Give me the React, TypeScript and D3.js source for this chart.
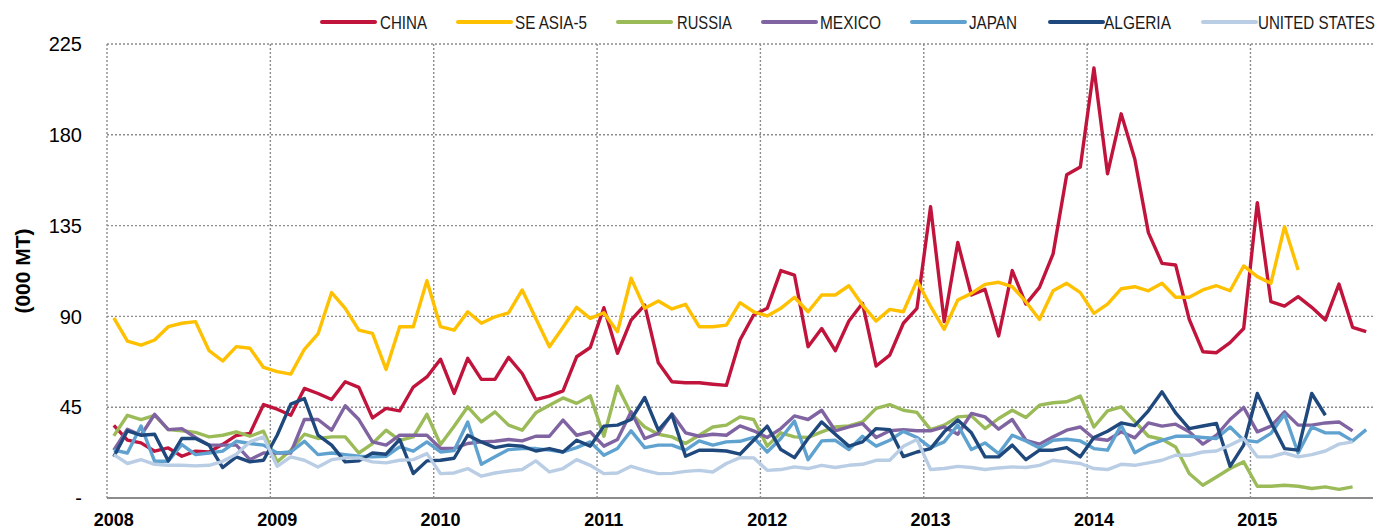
import React, { useEffect, useRef } from "react";
import * as d3 from "d3";

const WIDTH = 1384;
const HEIGHT = 529;
const MARGIN = { top: 44, right: 11, bottom: 31, left: 107 };

const YEARS = ["2008", "2009", "2010", "2011", "2012", "2013", "2014", "2015"];
const MONTH_COUNT = 93; // Jan 2008 .. Sep 2015
const Y_TICKS = [0, 45, 90, 135, 180, 225];

const CHINA = [
  36, 28.7, 27.3, 23.2, 24.8, 20.7, 23.2, 22.8, 26.6, 31, 32, 46.3,
  44, 41, 54.3, 51.8, 48.8, 57.6, 54.8, 39.7, 44.4, 43.2, 55, 60,
  68.8, 51.8, 69.2, 58.8, 58.8, 69.7, 61.7, 48.8, 50.5, 53.1, 70, 74.6,
  94.3, 71.7, 88.2, 95.6, 67, 57.6, 57.1, 57.1, 56.4, 55.8, 78.3, 90.7,
  94, 112.7, 110.5, 75, 84, 73, 87.7, 96.5, 65.4, 70.8, 86.6, 94,
  144.4, 87.4, 126.6, 100.6, 103.4, 80.3, 112.7, 96.1, 104.4, 121, 160.2, 164,
  213.1, 160.7, 190.4, 168, 131.5, 116.3, 115.5, 88.5, 72.5, 72, 77, 84,
  146.4, 97.3, 95.1, 99.8, 94.5, 88.2, 106, 84.6, 82.4,
];
const SE_ASIA_5 = [
  89.3, 77.8, 75.8, 78.3, 84.9, 86.6, 87.4, 73, 67.9, 75, 74.2, 64.7,
  62.6, 61.4, 73.7, 81.3, 101.8, 94, 83.2, 81.6, 63.7, 84.9, 84.9, 107.7,
  84.9, 83.2, 92.3, 86.6, 89.8, 91.8, 103.1, 89, 75, 84.6, 94.5, 89,
  91.8, 82.4, 108.9, 94, 97.6, 93.7, 96, 84.9, 84.9, 85.7, 96.8, 92.3,
  90.2, 94, 99.5, 92.3, 100.6, 100.6, 105.2, 95.6, 87.7, 93.5, 92.3, 107.7,
  95, 83.6, 98.1, 101.4, 105.9, 106.9, 104.7, 97.3, 88.5, 102.7, 106.4, 101.8,
  91.5, 96.1, 103.7, 104.7, 102.7, 106.4, 99.5, 99.5, 103.1, 105.2, 102.7, 115,
  109.7, 106.4, 134.5, 113,
];
const RUSSIA = [
  30.8, 41, 38.9, 41, 33.9, 33.3, 32.5, 30.3, 31.1, 32.8, 30.6, 33.1,
  17.9, 23.7, 31.6, 29.5, 30.3, 30.3, 22.3, 27, 33.6, 28.6, 30.3, 41.5,
  26.5, 35.6, 45.2, 37.7, 42.7, 36.1, 33.6, 42.2, 46, 49.6, 46.9, 50.6,
  30.6, 55.4, 41.9, 35.2, 31.6, 30.3, 27, 31.1, 35.2, 36.1, 40.2, 38.9,
  25.7, 32.3, 30.3, 30, 32.8, 35.2, 35.7, 37.7, 44.4, 46.3, 43.5, 42.4,
  33.9, 36.1, 40.2, 40.7, 34.4, 39.4, 43.5, 39.9, 46, 47.2, 47.7, 50.5,
  35.2, 43.2, 45.2, 38, 30.6, 29.1, 25.3, 12.1, 6.3, 10.4, 14.6, 17.9,
  5.8, 5.8, 6.3, 5.8, 4.7, 5.5, 4.3, 5.5,
];
const MEXICO = [
  23.7, 34.1, 31.1, 41.5, 33.9, 34.4, 30, 26.2, 26.2, 26.2, 19, 22.3,
  22.3, 22.3, 38.9, 38.9, 33.6, 45.7, 38.9, 27.8, 26.2, 31.1, 31.1, 31.1,
  24.5, 24.6, 27, 27.8, 28.1, 29, 28.3, 30.6, 30.6, 38.6, 31.1, 32.8,
  25.7, 29, 42.7, 29.5, 32, 41.7, 32.3, 30.6, 31.6, 31.1, 35.7, 33.3,
  30, 34.4, 40.7, 38.9, 43.5, 33.3, 35.2, 36.9, 30, 33.3, 33.9, 33.3,
  33.3, 35.2, 31.6, 41.9, 40.2, 34.1, 38.9, 28.6, 26.7, 30.3, 33.6, 35.2,
  29.5, 28.6, 32.8, 29.8, 37.2, 35.6, 36.6, 32.8, 26.7, 31.1, 38.9, 44.9,
  32.8, 35.6, 42.7, 36.1, 36.1, 37.2, 37.7, 33.3,
];
const JAPAN = [
  23.7, 22.3, 35.7, 18.2, 18.2, 26.5, 21.5, 22.3, 23.2, 28.1, 27, 26.2,
  22.3, 22.8, 28.1, 21.5, 22.3, 21.5, 20.7, 20.4, 20.7, 25.3, 23.2, 27.8,
  22.8, 23.5, 37.7, 16.7, 20.4, 24, 24.5, 24.5, 23.7, 22.8, 25, 27.8,
  21.2, 24.5, 33.3, 25, 26.2, 26.2, 23.7, 28.3, 26.2, 27.8, 28.1, 30,
  22.8, 29.5, 38.1, 19, 28.3, 28.6, 24, 30.6, 25.7, 28.6, 33, 30,
  25, 27.8, 36.1, 24, 27.3, 22, 31.1, 28.3, 24.8, 28.6, 29.1, 28.3,
  24.5, 23.7, 36.1, 22.4, 26.2, 28.6, 30.6, 30.6, 30, 29.5, 35.2, 28.6,
  27.8, 32, 41.5, 22.3, 35.2, 32.3, 32.3, 28.3, 33.9,
];
const ALGERIA = [
  20.4, 33.3, 31.1, 31.6, 18.4, 29.5, 29.5, 26.2, 15.1, 20.4, 17.9, 18.7,
  31.1, 46.5, 49.3, 31.1, 26.2, 17.9, 18.4, 22.3, 21.7, 29, 12.1, 18.4,
  18.7, 19.7, 31.1, 27.8, 25, 26.2, 25.7, 23.3, 24.5, 22.8, 28.6, 25.7,
  35.6, 36.1, 38.9, 49.8, 33.6, 41.3, 20.7, 23.7, 23.7, 23.3, 21.7, 28.6,
  35.6, 24, 20, 29.5, 37.7, 31.6, 25.7, 27.8, 34.4, 33.9, 20.5, 22.8,
  24.5, 32.8, 38.6, 32.3, 20.4, 20.4, 26.2, 19, 23.7, 23.7, 25, 20.4,
  30, 33.1, 37.2, 35.9, 43.2, 52.6, 42.2, 34.4, 35.7, 36.9, 15.7, 26.2,
  51.8, 37.7, 24.5, 23.7, 51.8, 41,
];
const UNITED_STATES = [
  21.5, 17.1, 19, 16.7, 16.2, 16.2, 15.9, 16.2, 18.2, 21.7, 27.8, 30.3,
  15.7, 20.4, 18.7, 15.4, 19, 19.9, 19.9, 17.9, 17.4, 18.7, 19, 22,
  12.1, 12.4, 14.6, 10.8, 12.4, 13.4, 14.1, 18.4, 12.9, 14.6, 19, 16.2,
  12.1, 12.4, 15.7, 13.7, 12.1, 12.2, 13.2, 13.7, 12.9, 17.1, 20, 19.9,
  13.7, 14.1, 15.4, 14.6, 16.2, 15.1, 16.2, 16.7, 18.7, 18.7, 25.6, 29,
  14.1, 14.6, 15.7, 15.1, 14.1, 14.9, 15.4, 15.1, 16.2, 18.7, 17.9, 17.1,
  14.6, 14.1, 16.7, 16.2, 17.4, 18.7, 21.2, 21.2, 22.8, 23.3, 26.2, 29.5,
  20.4, 20.4, 22.3, 20.4, 21.5, 23.3, 26.7, 27.8,
];

const SERIES_NAMES = ["CHINA", "SE ASIA-5", "RUSSIA", "MEXICO", "JAPAN", "ALGERIA", "UNITED STATES"];
const SERIES_VALUES = [CHINA, SE_ASIA_5, RUSSIA, MEXICO, JAPAN, ALGERIA, UNITED_STATES];
const COLORS = ["#c0143c", "#ffc000", "#9bbb59", "#8064a2", "#5fa2d0", "#1f497d", "#b9cde5"];

// legend layout (narrow font in the original, so text is squeezed to fit)
const LEGEND_LINE_X = [322, 458, 618, 763, 912, 1050, 1203];
const LEGEND_TEXT_X = [380, 515, 677, 820, 969, 1104, 1258];
const LEGEND_TEXT_W = [47, 72, 55, 61, 48, 67, 117];

const App = () => {
  const svgRef = useRef<SVGSVGElement>(null);

  useEffect(() => {
    const innerW = WIDTH - MARGIN.left - MARGIN.right;
    const innerH = HEIGHT - MARGIN.top - MARGIN.bottom;
    const months = d3.range(MONTH_COUNT);

    const xScale = d3.scaleBand<number>().domain(months).range([0, innerW]);
    const xMid = (i: number) => (xScale(i) as number) + xScale.bandwidth() / 2;
    const yScale = d3.scaleLinear().domain([0, 225]).range([innerH, 0]);

    const svgEl = d3.select(svgRef.current);
    svgEl.selectAll("*").remove();
    const svg = svgEl
      .append("g")
      .attr("transform", `translate(${MARGIN.left},${MARGIN.top})`);

    const grid = "#8c8c8c";

    // horizontal gridlines
    svg
      .append("g")
      .selectAll("line")
      .data(Y_TICKS.filter((t) => t > 0))
      .join("line")
      .attr("x1", 0)
      .attr("x2", innerW)
      .attr("y1", (d) => yScale(d))
      .attr("y2", (d) => yScale(d))
      .attr("stroke", grid)
      .attr("stroke-width", 1.4)
      .attr("stroke-dasharray", "2,2");

    // vertical gridlines at year starts
    svg
      .append("g")
      .selectAll("line")
      .data(YEARS.map((_, k) => k * 12))
      .join("line")
      .attr("x1", (d) => xScale(d) as number)
      .attr("x2", (d) => xScale(d) as number)
      .attr("y1", 0)
      .attr("y2", innerH)
      .attr("stroke", grid)
      .attr("stroke-width", 1.4)
      .attr("stroke-dasharray", "2,2");

    // x axis baseline
    svg
      .append("line")
      .attr("x1", 0)
      .attr("x2", innerW)
      .attr("y1", innerH)
      .attr("y2", innerH)
      .attr("stroke", "#8c8c8c")
      .attr("stroke-width", 2);

    // y tick labels
    svg
      .append("g")
      .selectAll("text")
      .data(Y_TICKS)
      .join("text")
      .attr("x", -25)
      .attr("y", (d) => yScale(d))
      .attr("dy", "0.36em")
      .attr("text-anchor", "end")
      .attr("font-family", "Liberation Sans, Arial, sans-serif")
      .attr("font-size", 20)
      .attr("fill", "#000")
      .text((d) => (d === 0 ? "-" : String(d)));

    // x year labels
    svg
      .append("g")
      .selectAll("text")
      .data(YEARS)
      .join("text")
      .attr("x", (_, k) => xMid(k * 12))
      .attr("y", innerH + 28)
      .attr("text-anchor", "middle")
      .attr("font-family", "Liberation Sans, Arial, sans-serif")
      .attr("font-weight", "bold")
      .attr("font-size", 18)
      .attr("fill", "#000")
      .text((d) => d);

    // y axis title
    svgEl
      .append("text")
      .attr("transform", "translate(30,271) rotate(-90)")
      .attr("text-anchor", "middle")
      .attr("font-family", "Liberation Sans, Arial, sans-serif")
      .attr("font-weight", "bold")
      .attr("font-size", 21)
      .attr("fill", "#000")
      .text("(000 MT)");

    const line = d3
      .line<number>()
      .x((_, i) => xMid(i))
      .y((d) => yScale(d));

    SERIES_VALUES.forEach((values, s) => {
      svg
        .append("path")
        .datum(values)
        .attr("fill", "none")
        .attr("stroke", COLORS[s])
        .attr("stroke-width", 3.4)
        .attr("stroke-linejoin", "round")
        .attr("d", (d) => line(d));
    });

    // legend
    const legend = svgEl.append("g");
    SERIES_NAMES.forEach((name, s) => {
      const lx = LEGEND_LINE_X[s];
      legend
        .append("line")
        .attr("x1", lx)
        .attr("x2", lx + 53)
        .attr("y1", 22)
        .attr("y2", 22)
        .attr("stroke", COLORS[s])
        .attr("stroke-width", 4)
        .attr("stroke-linecap", "round");
      const label = legend
        .append("text")
        .attr("x", 0)
        .attr("y", 0)
        .attr("font-family", "Liberation Sans, Arial, sans-serif")
        .attr("font-size", 18.5)
        .attr("fill", "#1a1a1a")
        .text(name);
      const natural = (label.node() as SVGTextElement).getComputedTextLength() || LEGEND_TEXT_W[s];
      const k = LEGEND_TEXT_W[s] / natural;
      label.attr("transform", `translate(${LEGEND_TEXT_X[s]},29.3) scale(${k},1)`);
    });
  }, []);

  return (
    <svg
      ref={svgRef}
      width={WIDTH}
      height={HEIGHT}
      style={{ position: "absolute", left: 0, top: 0, background: "#fff" }}
    />
  );
};

export default App;
